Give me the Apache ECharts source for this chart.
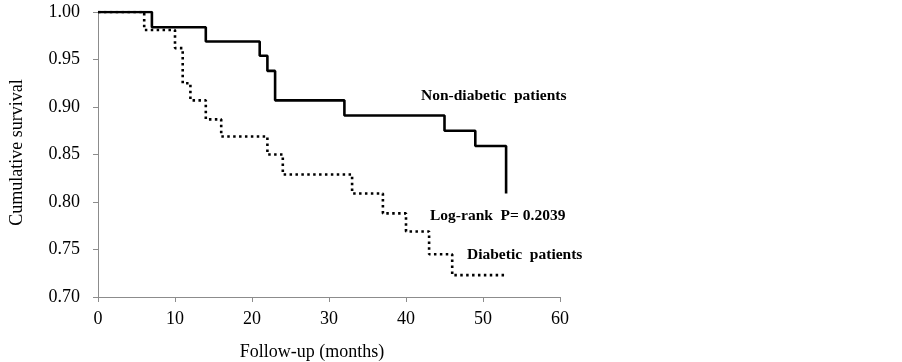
<!DOCTYPE html>
<html>
<head>
<meta charset="utf-8">
<script src="https://cdn.jsdelivr.net/npm/echarts@6/dist/echarts.min.js"></script>
<style>
html, body { margin: 0; padding: 0; background: #fff; }
#graph { width: 902px; height: 362px; }
</style>
</head>
<body>
<div id="graph"></div>
<script>
"use strict"

// event times (months) and survival after each drop
const nonDiabTimes = [0, 7, 14, 21, 22, 23, 32, 45, 49, 53];
const nonDiabSurv = [1.000, 0.984, 0.969, 0.954, 0.938, 0.907, 0.891, 0.875, 0.859, 0.809];
const diabTimes = [0, 6, 10, 11, 12, 14, 16, 22, 24, 33, 37, 40, 43, 46, 53];
const diabSurv = [1.000, 0.981, 0.962, 0.925, 0.907, 0.887, 0.869, 0.850, 0.829, 0.809, 0.788, 0.769, 0.745, 0.723, 0.723];
const xTicks = [0, 10, 20, 30, 40, 50, 60];
const yTicks = [0.70, 0.75, 0.80, 0.85, 0.90, 0.95, 1.00];

const serif = "'Liberation Serif', 'DejaVu Serif', serif";
const zip = (xs, ys) => xs.map((x, i) => [x, ys[i]]);

const myChart = echarts.init(document.getElementById("graph"), null, { renderer: "canvas" });
const option = {
    animation: false,
    grid: { left: 98, right: 342, top: 12, bottom: 65, containLabel: false, outerBoundsMode: "none" },
    xAxis: {
        type: "value",
        min: xTicks[0],
        max: xTicks[xTicks.length - 1],
        interval: 10,
        name: "Follow-up (months)",
        nameLocation: "middle",
        nameGap: 46,
        nameTextStyle: { fontFamily: serif, fontSize: 18, color: "#000", padding: [0, 34, 0, 0] },
        axisLine: { lineStyle: { color: "#8c8c8c", width: 1 } },
        axisTick: { show: true, length: 5, lineStyle: { color: "#8c8c8c" } },
        axisLabel: { fontFamily: serif, fontSize: 18, color: "#000", margin: 13 },
        splitLine: { show: false }
    },
    yAxis: {
        type: "value",
        min: yTicks[0],
        max: yTicks[yTicks.length - 1],
        interval: 0.05,
        name: "Cumulative survival",
        nameLocation: "middle",
        nameGap: 72,
        nameTextStyle: { fontFamily: serif, fontSize: 18, color: "#000", padding: [0, 0, 0, 4] },
        axisLine: { show: true, lineStyle: { color: "#8c8c8c", width: 1 } },
        axisTick: { show: true, length: 5, lineStyle: { color: "#8c8c8c" } },
        axisLabel: { fontFamily: serif, fontSize: 18, color: "#000", margin: 18, formatter: v => v.toFixed(2) },
        splitLine: { show: false }
    },
    series: [
        {
            name: "Non-diabetic patients",
            type: "line",
            step: "end",
            symbol: "none",
            data: zip(nonDiabTimes, nonDiabSurv),
            lineStyle: { color: "#000", width: 2.6 },
            z: 3
        },
        {
            name: "Diabetic patients",
            type: "line",
            step: "end",
            symbol: "none",
            data: zip(diabTimes, diabSurv),
            lineStyle: { color: "#000", width: 2.6, type: [2.5, 3.4] },
            z: 2
        }
    ],
    graphic: [
        { type: "text", left: 421, top: 88, style: { text: "Non-diabetic  patients", font: "bold 15.5px " + serif, fill: "#000" } },
        { type: "text", left: 430, top: 208, style: { text: "Log-rank  P= 0.2039", font: "bold 15.5px " + serif, fill: "#000" } },
        { type: "text", left: 467, top: 247, style: { text: "Diabetic  patients", font: "bold 15.5px " + serif, fill: "#000" } }
    ]
};
myChart.setOption(option);
</script>
</body>
</html>
